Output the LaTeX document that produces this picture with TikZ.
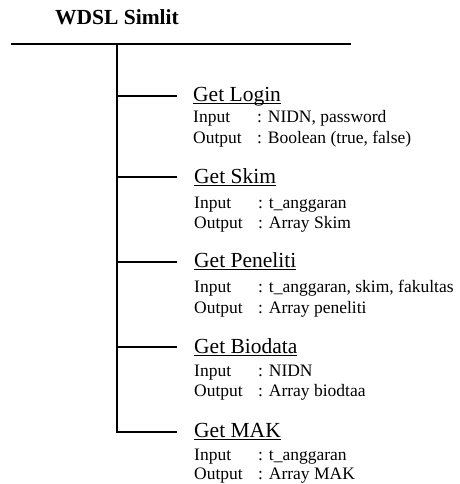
\documentclass[tikz,border=0pt]{standalone}
\usepackage{fontspec}
\setmainfont{Liberation Serif}
\newcommand\myul[1]{\setbox0\hbox{#1}\rlap{\rule[-2.4pt]{\wd0}{0.9pt}}\box0}
\newcommand\iolab[1]{\makebox[64pt][l]{#1}}
\tikzset{
  tree/.style={line width=2.8pt, line cap=butt},
  heading/.style={anchor=base west, inner sep=0pt, font=\fontsize{21.5}{24}\selectfont\bfseries},
  fname/.style={anchor=base west, inner sep=0pt, font=\fontsize{21.5}{24}\selectfont},
  io/.style={anchor=base west, inner sep=0pt, font=\fontsize{17.5}{20}\selectfont},
}
\begin{document}
\begin{tikzpicture}[x=1pt,y=-1pt]
\useasboundingbox (0,0) rectangle (459,484);
\fill[white] (0,0) rectangle (459,484);

\node[heading] (title) at (55,25) {WDSL Simlit};

\coordinate (hl) at (11,44);
\coordinate (hr) at (351,44);
\coordinate (trunk) at (117,44);
\draw[tree] (hl) -- (hr);

% branch ends
\coordinate (e1) at (177,96);
\coordinate (e2) at (177,177);
\coordinate (e3) at (177,262);
\coordinate (e4) at (177,347);
\coordinate (e5) at (177,432);

\draw[tree, line join=miter] (trunk) |- (e5);
\draw[tree] (trunk |- e1) -- (e1);
\draw[tree] (trunk |- e2) -- (e2);
\draw[tree] (trunk |- e3) -- (e3);
\draw[tree] (trunk |- e4) -- (e4);

% Get Login
\node[fname] (f1) at (193,102) {\myul{Get Login}};
\node[io] (i1) at (193,123) {\iolab{Input}: NIDN, password};
\node[io] (o1) at (193,143) {\iolab{Output}: Boolean (true, false)};

% Get Skim
\node[fname] (f2) at (194,183) {\myul{Get Skim}};
\node[io] (i2) at (194,208) {\iolab{Input}: t\_anggaran};
\node[io] (o2) at (194,228) {\iolab{Output}: Array Skim};

% Get Peneliti
\node[fname] (f3) at (194,267) {\myul{Get Peneliti}};
\node[io] (i3) at (194,292) {\iolab{Input}: t\_anggaran, skim, fakultas};
\node[io] (o3) at (194,313) {\iolab{Output}: Array peneliti};

% Get Biodata
\node[fname] (f4) at (194,353) {\myul{Get Biodata}};
\node[io] (i4) at (194,376) {\iolab{Input}: NIDN};
\node[io] (o4) at (194,396) {\iolab{Output}: Array biodtaa};

% Get MAK
\node[fname] (f5) at (194,437) {\myul{Get MAK}};
\node[io] (i5) at (194,460) {\iolab{Input}: t\_anggaran};
\node[io] (o5) at (194,479) {\iolab{Output}: Array MAK};
\end{tikzpicture}
\end{document}
